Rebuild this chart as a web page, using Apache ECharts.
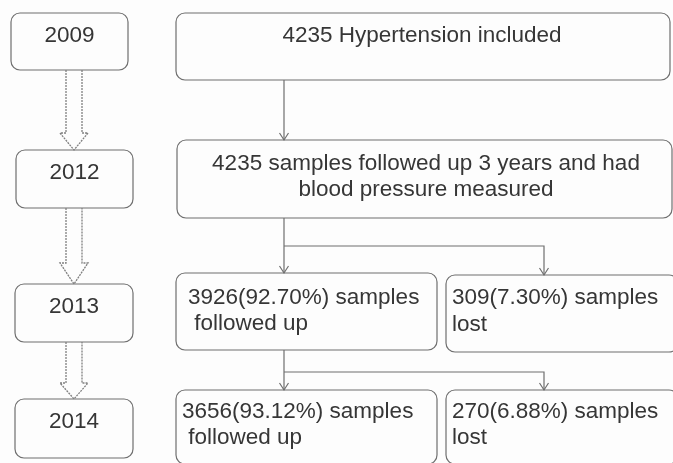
<!DOCTYPE html>
<html>
<head>
  <meta charset="utf-8">
  <title>Hypertension follow-up flow</title>
  <script src="https://cdn.jsdelivr.net/npm/echarts@6/dist/echarts.min.js"></script>
  <style>
    html, body { margin: 0; padding: 0; background: #fdfdfd; }
    #main { width: 673px; height: 463px; }
  </style>
</head>
<body>
<div id="main"></div>

<script>
  // data
  const years = ['2009', '2012', '2013', '2014'];
  const included = 4235;
  const followYears = 3;
  const followedUp = [3926, 3656];
  const followedPct = ['92.70', '93.12'];
  const lost = [309, 270];
  const lostPct = ['7.30', '6.88'];

  // layout, in chart units (the hidden axes run 0..673 and 0..463)
  const yearBoxes = [[11, 13, 128, 70], [16, 150, 133, 208], [15, 284, 133, 342], [15, 399, 133, 458]];
  const yearTextY = [36, 173, 307, 422];
  const yearArrows = [[70, 133, 150], [208, 263, 284], [342, 383, 399]]; // top, head start, tip
  const shaftX = [66, 82];
  const headX = [60, 88];

  const boxes = [
    { rect: [176, 13, 670, 80], lines: [included + ' Hypertension included'], x: 422, y: [36], align: 'center' },
    { rect: [177, 140, 672, 218],
      lines: [included + ' samples followed up ' + followYears + ' years and had', 'blood pressure measured'],
      x: 426, y: [164, 190], align: 'center' },
    { rect: [176, 273, 437, 350], lines: [followedUp[0] + '(' + followedPct[0] + '%) samples', ' followed up'],
      x: 188, y: [298, 324], align: 'left' },
    { rect: [446, 275, 678, 352], lines: [lost[0] + '(' + lostPct[0] + '%) samples', 'lost'],
      x: 452, y: [298, 325], align: 'left' },
    { rect: [176, 390, 437, 464], lines: [followedUp[1] + '(' + followedPct[1] + '%) samples', ' followed up'],
      x: 182, y: [412, 438], align: 'left' },
    { rect: [446, 390, 678, 464], lines: [lost[1] + '(' + lostPct[1] + '%) samples', 'lost'],
      x: 452, y: [412, 438], align: 'left' }
  ];

  const connectors = [
    [[284, 80], [284, 140]],
    [[284, 218], [284, 273]],
    [[284, 246], [544, 246], [544, 275]],
    [[284, 350], [284, 390]],
    [[284, 372], [544, 372], [544, 390]]
  ];

  const font = '22.5px "Liberation Sans", Arial, sans-serif';
  const ink = '#363636';
  const edge = '#6f6f6f';

  var myChart = echarts.init(document.getElementById('main'));

  function roundBox(api, r) {
    const a = api.coord([r[0], r[1]]);
    const b = api.coord([r[2], r[3]]);
    return {
      type: 'rect',
      shape: { x: a[0], y: a[1], width: b[0] - a[0], height: b[1] - a[1], r: 9 },
      style: { fill: '#fdfdfd', stroke: edge, lineWidth: 1.2 }
    };
  }

  function label(api, text, x, y, align) {
    const p = api.coord([x, y]);
    return {
      type: 'text',
      x: p[0],
      y: p[1],
      style: { text: text, font: font, fill: ink, align: align, verticalAlign: 'middle' }
    };
  }

  var option = {
    animation: false,
    backgroundColor: '#fdfdfd',
    grid: { left: 0, right: 0, top: 0, bottom: 0 },
    xAxis: { type: 'value', min: 0, max: 673, show: false },
    yAxis: { type: 'value', min: 0, max: 463, inverse: true, show: false },
    series: [
      {
        // year boxes
        type: 'custom',
        coordinateSystem: 'cartesian2d',
        silent: true,
        data: years.map((y, i) => [i]),
        renderItem: function (params, api) {
          const i = params.dataIndex;
          const r = yearBoxes[i];
          return {
            type: 'group',
            children: [
              roundBox(api, r),
              label(api, years[i], (r[0] + r[2]) / 2, yearTextY[i], 'center')
            ]
          };
        }
      },
      {
        // hollow arrows between the years
        type: 'custom',
        silent: true,
        data: yearArrows.map((a, i) => [i]),
        renderItem: function (params, api) {
          const a = yearArrows[params.dataIndex];
          const pts = [
            [shaftX[0], a[0]], [shaftX[0], a[1]], [headX[0], a[1]],
            [(headX[0] + headX[1]) / 2, a[2]],
            [headX[1], a[1]], [shaftX[1], a[1]], [shaftX[1], a[0]]
          ].map(p => api.coord(p));
          return {
            type: 'polyline',
            shape: { points: pts },
            style: { fill: 'none', stroke: '#808080', lineWidth: 1.3, lineDash: [2, 1] }
          };
        }
      },
      {
        // text boxes
        type: 'custom',
        silent: true,
        data: boxes.map((b, i) => [i]),
        renderItem: function (params, api) {
          const b = boxes[params.dataIndex];
          const children = [roundBox(api, b.rect)];
          b.lines.forEach((t, k) => children.push(label(api, t, b.x, b.y[k], b.align)));
          return { type: 'group', children: children };
        }
      },
      {
        // connector lines with open arrow heads
        type: 'custom',
        silent: true,
        data: connectors.map((c, i) => [i]),
        renderItem: function (params, api) {
          const c = connectors[params.dataIndex].map(p => api.coord(p));
          const end = c[c.length - 1];
          return {
            type: 'group',
            children: [
              {
                type: 'polyline',
                shape: { points: c },
                style: { fill: 'none', stroke: edge, lineWidth: 1.2 }
              },
              {
                type: 'polyline',
                shape: { points: [[end[0] - 4.5, end[1] - 7], end, [end[0] + 4.5, end[1] - 7]] },
                style: { fill: 'none', stroke: edge, lineWidth: 1.2 }
              }
            ]
          };
        }
      }
    ]
  };

  myChart.setOption(option);
</script>
</body>
</html>
